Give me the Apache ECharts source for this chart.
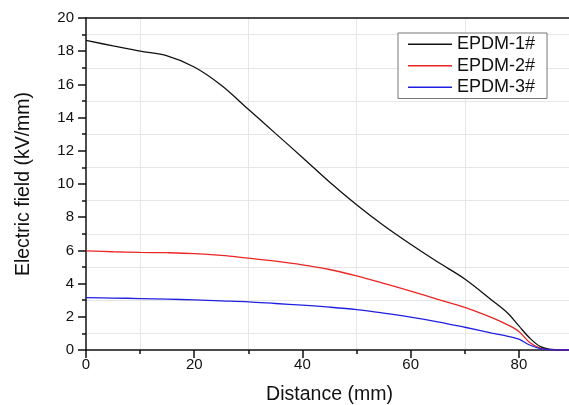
<!DOCTYPE html>
<html><head><meta charset="utf-8">
<script src="https://cdn.jsdelivr.net/npm/echarts@6/dist/echarts.min.js"></script>
<style>html,body{margin:0;padding:0;background:#fff}#c{width:569px;height:405px}</style>
</head><body><div id="c"></div>
<script>
var distance = [0,5,10,15,20,25,30,35,40,45,50,55,60,65,70,75,78,80,82,84,86,88,90];
var epdm1 = [18.65,18.32,18.0,17.72,17.05,15.95,14.5,13.05,11.6,10.12,8.75,7.5,6.37,5.3,4.28,3.0,2.2,1.45,0.72,0.2,0.03,0,0];
var epdm2 = [5.97,5.92,5.88,5.86,5.81,5.7,5.53,5.35,5.13,4.85,4.47,4.02,3.55,3.05,2.57,1.95,1.5,1.12,0.45,0.1,0.01,0,0];
var epdm3 = [3.15,3.13,3.1,3.06,3.02,2.96,2.9,2.8,2.7,2.58,2.43,2.22,1.98,1.7,1.37,1.02,0.82,0.65,0.3,0.08,0.01,0,0];
var seriesNames = ['EPDM-1#','EPDM-2#','EPDM-3#'];
var seriesColors = ['#111111','#ec2525','#2020e0'];
var xTitle = 'Distance (mm)';
var yTitle = 'Electric field (kV/mm)';

function pairs(v){ return distance.map(function(d,i){ return [d, v[i]]; }); }
var font = '"Liberation Sans", Arial, sans-serif';
var chart = echarts.init(document.getElementById('c'));
var minorGrid = {show:true, lineStyle:{color:'#e6e6e6', width:1}};
chart.setOption({
  animation:false,
  textStyle:{fontFamily:font},
  grid:{left:86, top:18, width:487, height:332, containLabel:false, outerBoundsMode:'none'},
  legend:{
    orient:'vertical', left:398, top:33,
    data:seriesNames.map(function(n){ return {name:n, icon:'rect'}; }),
    backgroundColor:'#fff', borderColor:'#777', borderWidth:1,
    padding:[2,12,2,10], itemGap:3, itemWidth:44, itemHeight:1.5,
    textStyle:{fontFamily:font, fontSize:18, lineHeight:18.5, color:'#111'}
  },
  xAxis:[{
    type:'value', min:0, max:90, interval:20,
    name:xTitle, nameLocation:'middle', nameGap:35,
    nameTextStyle:{fontFamily:font, fontSize:19.5, color:'#111'},
    axisLine:{show:true, onZero:false, lineStyle:{color:'#111', width:1.5}},
    axisTick:{show:true, inside:false, length:8, lineStyle:{color:'#111', width:1.5}},
    minorTick:{show:true, splitNumber:2, length:4, lineStyle:{color:'#111', width:1.5}},
    axisLabel:{fontFamily:font, fontSize:15, color:'#111', margin:7, showMaxLabel:false},
    splitLine:{show:false},
    minorSplitLine:minorGrid
  },{
    type:'value', min:0, max:90, position:'top',
    axisLine:{show:true, onZero:false, lineStyle:{color:'#111', width:1.5}},
    axisTick:{show:false}, axisLabel:{show:false}, splitLine:{show:false}
  }],
  yAxis:{
    type:'value', min:0, max:20, interval:2,
    name:yTitle, nameLocation:'middle', nameGap:52, nameRotate:90,
    nameTextStyle:{fontFamily:font, fontSize:19.5, color:'#111'},
    axisLine:{show:true, onZero:false, lineStyle:{color:'#111', width:1.5}},
    axisTick:{show:true, inside:false, length:8, lineStyle:{color:'#111', width:1.5}},
    minorTick:{show:true, splitNumber:2, length:4, lineStyle:{color:'#111', width:1.5}},
    axisLabel:{fontFamily:font, fontSize:15, color:'#111', margin:12},
    splitLine:{show:false},
    minorSplitLine:minorGrid
  },
  series:[epdm1,epdm2,epdm3].map(function(v,i){
    return {
      name:seriesNames[i], type:'line', data:pairs(v),
      xAxisIndex:0, symbol:'none', smooth:0.35,
      lineStyle:{color:seriesColors[i], width:1.3},
      itemStyle:{color:seriesColors[i]}
    };
  })
});
</script></body></html>
